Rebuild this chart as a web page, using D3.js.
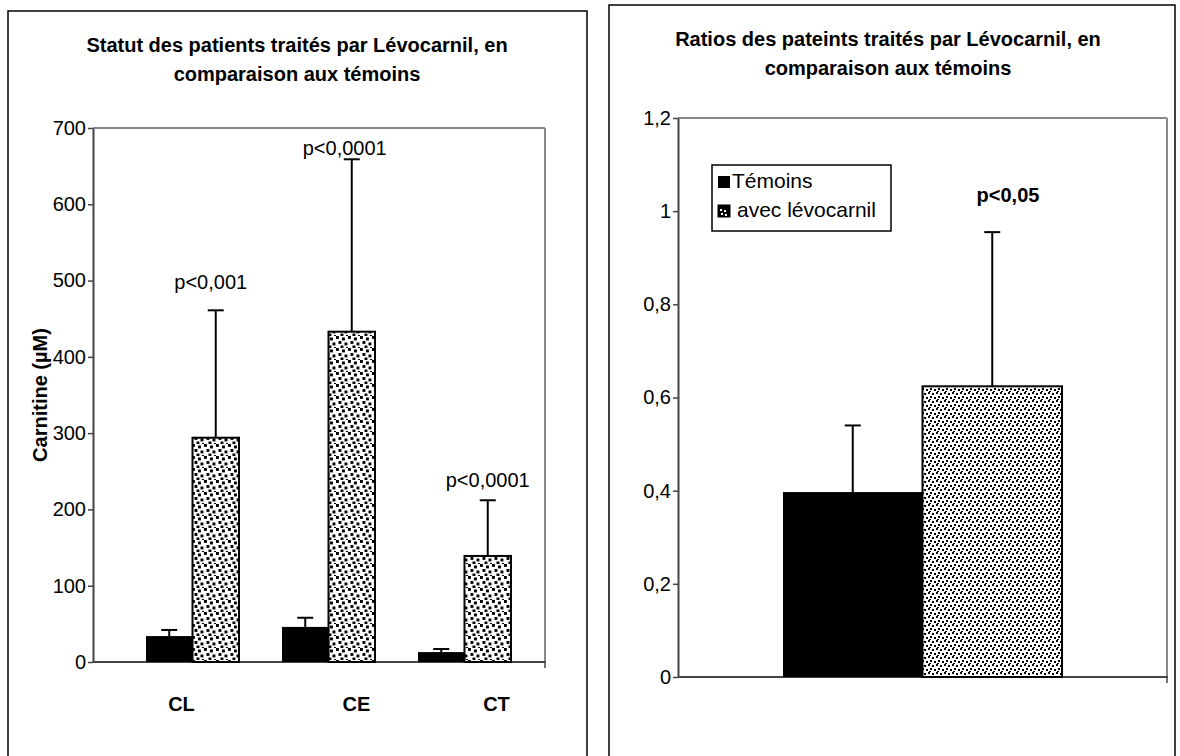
<!DOCTYPE html>
<html>
<head>
<meta charset="utf-8">
<script src="https://cdn.jsdelivr.net/npm/d3@7"></script>
<style>
  html, body { margin: 0; padding: 0; background: #fff; }
  svg { display: block; font-family: "Liberation Sans", Arial, sans-serif; }
</style>
</head>
<body>
<svg id="chart" width="1180" height="756"></svg>
<script>
// Carnitine levels (µM) by fraction: controls vs. patients on Lévocarnil
const categories = ["CL", "CE", "CT"];
const seriesNames = ["Témoins", "avec lévocarnil"];
const controlMeans = [34, 46, 13];
const controlErrTop = [42, 58, 17];
const treatedMeans = [294, 433, 139];
const treatedErrTop = [461, 659, 212];
const pLabels = ["p<0,001", "p<0,0001", "p<0,0001"];
const pLabelLevel = [489, 664, 229];
const leftTicks = [0, 100, 200, 300, 400, 500, 600, 700];

// Ratio panel
const ratioMeans = [0.397, 0.624];
const ratioErrTop = [0.54, 0.955];
const ratioPLabel = "p<0,05";
const ratioPLevel = 1.02;
const rightTicks = [0, 0.2, 0.4, 0.6, 0.8, 1, 1.2];

const FS = 20;
const svg = d3.select("#chart");
const defs = svg.append("defs");

// Dotted fill: small squares in a staggered layout
function dotPattern(id, size, dot, pts, bg, fg) {
  const p = defs.append("pattern").attr("id", id)
    .attr("patternUnits", "userSpaceOnUse")
    .attr("width", size).attr("height", size);
  p.append("rect").attr("width", size).attr("height", size).attr("fill", bg);
  pts.forEach(([x, y]) => p.append("rect").attr("x", x).attr("y", y)
    .attr("width", dot).attr("height", dot).attr("fill", fg));
}
dotPattern("dotsL", 12, 2.9, [[0, 0], [6, 1.5], [2.5, 5], [8.5, 6.5], [4.5, 9.5], [10, 11]], "#fff", "#000");
dotPattern("dotsR", 8, 2, [[0, 0], [4, 1], [2, 4], [6, 5], [1, 7]], "#fff", "#000");
dotPattern("dotsKey", 11, 2, [[2, 2], [6, 3], [3, 6], [7, 7]], "#000", "#fff");

// Panel frames
svg.append("rect").attr("x", 8).attr("y", 11).attr("width", 579).attr("height", 760)
  .attr("fill", "none").attr("stroke", "#000").attr("stroke-width", 1.5);
svg.append("rect").attr("x", 609).attr("y", 5).attr("width", 566).attr("height", 770)
  .attr("fill", "none").attr("stroke", "#000").attr("stroke-width", 1.5);

function title(cx, y, lines) {
  lines.forEach((t, i) => svg.append("text").attr("x", cx).attr("y", y + i * 29)
    .attr("text-anchor", "middle").attr("font-weight", "bold").attr("font-size", FS)
    .attr("fill", "#000").text(t));
}

function errorBar(g, x, yTop, yBottom, cap) {
  g.append("line").attr("x1", x).attr("x2", x).attr("y1", yTop).attr("y2", yBottom)
    .attr("stroke", "#000").attr("stroke-width", 2);
  g.append("line").attr("x1", x - cap).attr("x2", x + cap).attr("y1", yTop).attr("y2", yTop)
    .attr("stroke", "#000").attr("stroke-width", 2);
}

function frameAndAxis(g, y, left, right, top, bottom, ticks, fmt) {
  g.append("line").attr("x1", left).attr("x2", right).attr("y1", top).attr("y2", top)
    .attr("stroke", "#888").attr("stroke-width", 2);
  g.append("line").attr("x1", right).attr("x2", right).attr("y1", top).attr("y2", bottom)
    .attr("stroke", "#888").attr("stroke-width", 2);
  const ax = g.append("g").attr("transform", `translate(${left},0)`)
    .call(d3.axisLeft(y).tickValues(ticks).tickFormat(fmt).tickSize(5).tickSizeOuter(0).tickPadding(2));
  ax.select(".domain").attr("stroke", "#444").attr("stroke-width", 2);
  ax.selectAll(".tick line").attr("stroke", "#444").attr("stroke-width", 1.5);
  ax.selectAll(".tick text").attr("font-size", FS).attr("fill", "#000")
    .attr("font-family", "Liberation Sans, Arial, sans-serif");
  g.append("line").attr("x1", left).attr("x2", right + 1).attr("y1", bottom).attr("y2", bottom)
    .attr("stroke", "#444").attr("stroke-width", 2);
  g.append("line").attr("x1", right).attr("x2", right).attr("y1", bottom).attr("y2", bottom + 6)
    .attr("stroke", "#444").attr("stroke-width", 1.5);
}

// ---------- Left panel ----------
{
  const left = 93, right = 545, top = 128, bottom = 662;
  const g = svg.append("g");
  title(297, 52, ["Statut des patients traités par Lévocarnil, en", "comparaison aux témoins"]);

  const y = d3.scaleLinear().domain([0, 700]).range([bottom, top]);
  const x = d3.scaleBand().domain(categories).range([124.5, 532.5]);
  const sub = d3.scaleBand().domain(seriesNames)
    .range([x.bandwidth() / 2 - 46.5, x.bandwidth() / 2 + 46.5]);

  frameAndAxis(g, y, left, right, top, bottom, leftTicks, d3.format("d"));

  const rows = categories.map((c, i) => ({
    c, vals: [
      { s: seriesNames[0], v: controlMeans[i], e: controlErrTop[i] },
      { s: seriesNames[1], v: treatedMeans[i], e: treatedErrTop[i] }
    ], p: pLabels[i], pl: pLabelLevel[i]
  }));

  rows.forEach(r => {
    r.vals.forEach((d, k) => {
      const bx = x(r.c) + sub(d.s);
      const cx = bx + sub.bandwidth() / 2;
      errorBar(g, cx, y(d.e), y(d.v), 8);
      g.append("rect").attr("x", bx).attr("y", y(d.v))
        .attr("width", sub.bandwidth()).attr("height", y(0) - y(d.v))
        .attr("fill", k === 0 ? "#000" : "url(#dotsL)")
        .attr("stroke", "#000").attr("stroke-width", k === 0 ? 0 : 2);
    });
  });

  // significance labels above the treated bars
  const pShift = [-5, -7, 0];
  rows.forEach((r, i) => {
    const cx = x(r.c) + sub(seriesNames[1]) + sub.bandwidth() / 2 + pShift[i];
    g.append("text").attr("x", cx).attr("y", y(r.pl)).attr("text-anchor", "middle")
      .attr("font-size", FS).attr("fill", "#000").text(r.p);
  });

  // category labels
  const labelShift = [-11, 28, 32];
  categories.forEach((c, i) => {
    g.append("text").attr("x", x(c) + x.bandwidth() / 2 + labelShift[i]).attr("y", 711)
      .attr("text-anchor", "middle").attr("font-weight", "bold").attr("font-size", FS)
      .attr("fill", "#000").text(c);
  });

  g.append("text").attr("transform", `translate(40,${(top + bottom) / 2}) rotate(-90)`)
    .attr("text-anchor", "middle").attr("font-weight", "bold").attr("font-size", FS)
    .attr("dy", "0.35em").attr("fill", "#000").text("Carnitine (µM)");
}

// ---------- Right panel ----------
{
  const left = 678, right = 1167, top = 118, bottom = 677;
  const g = svg.append("g");
  title(888, 46, ["Ratios des pateints traités par Lévocarnil, en", "comparaison aux témoins"]);

  const y = d3.scaleLinear().domain([0, 1.2]).range([bottom, top]);
  const x = d3.scaleBand().domain(seriesNames).range([783, 1062]);

  frameAndAxis(g, y, left, right, top, bottom, rightTicks,
    d => d3.format("~g")(d).replace(".", ","));

  seriesNames.forEach((s, k) => {
    const bx = x(s), cx = bx + x.bandwidth() / 2;
    errorBar(g, cx, y(ratioErrTop[k]), y(ratioMeans[k]), 8);
    g.append("rect").attr("x", bx).attr("y", y(ratioMeans[k]))
      .attr("width", x.bandwidth()).attr("height", y(0) - y(ratioMeans[k]))
      .attr("fill", k === 0 ? "#000" : "url(#dotsR)")
      .attr("stroke", "#000").attr("stroke-width", k === 0 ? 0 : 2);
  });

  g.append("text").attr("x", 1008).attr("y", y(ratioPLevel)).attr("text-anchor", "middle")
    .attr("font-weight", "bold").attr("font-size", FS).attr("fill", "#000").text(ratioPLabel);

  // legend
  const lg = g.append("g").attr("transform", "translate(712,165)");
  lg.append("rect").attr("width", 179).attr("height", 66)
    .attr("fill", "#fff").attr("stroke", "#000").attr("stroke-width", 1.5);
  const textGap = [2, 7];
  seriesNames.forEach((s, k) => {
    const row = lg.append("g").attr("transform", `translate(6,${13 + k * 29})`);
    row.append("rect").attr("y", -2).attr("width", 12).attr("height", 12)
      .attr("fill", k === 0 ? "#000" : "url(#dotsKey)")
      .attr("stroke", "#000").attr("stroke-width", k === 0 ? 0 : 1);
    row.append("text").attr("x", 12 + textGap[k]).attr("y", 10).attr("font-size", 21)
      .attr("fill", "#000").text(s);
  });
}
</script>
</body>
</html>
